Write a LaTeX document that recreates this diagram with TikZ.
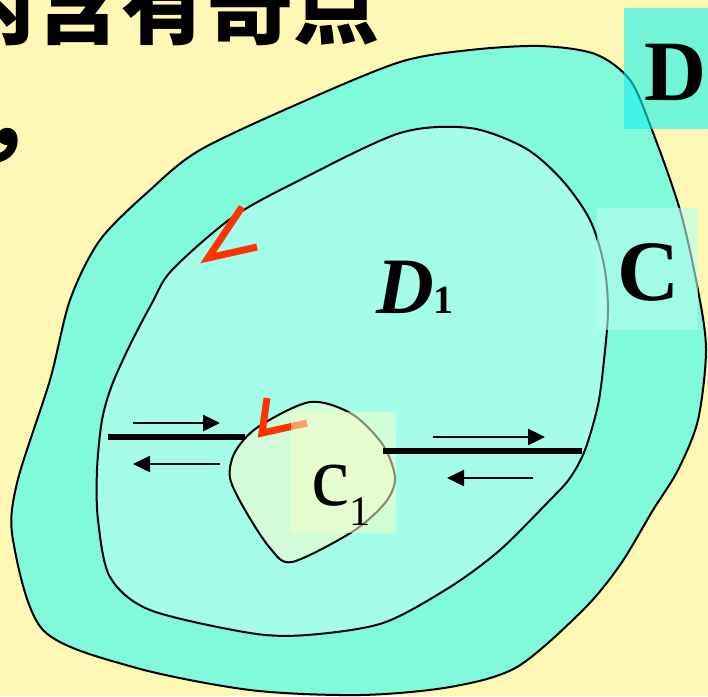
\documentclass[tikz,border=0pt]{standalone}
\usepackage{fontspec}
\setmainfont{Liberation Serif}
\newfontfamily\cjk{Noto Sans CJK SC}
\usetikzlibrary{arrows.meta,positioning}
\definecolor{paper}{RGB}{255,247,180}
\definecolor{ringD}{RGB}{128,250,218}
\definecolor{innerD}{RGB}{164,253,232}
\definecolor{holeC}{RGB}{210,252,216}
\definecolor{markred}{RGB}{255,51,0}
\definecolor{boxD}{RGB}{21,242,238}
\definecolor{boxC}{RGB}{186,253,241}
\definecolor{boxc}{RGB}{245,252,200}

\begin{document}
\begin{tikzpicture}[x=1pt,y=-1pt,
  flow/.style={line width=2.5pt,-{Triangle[length=17pt,width=16pt]}},
  cut/.style={line width=6pt},
  rim/.style={line width=2pt},
  redmark/.style={markred,line width=7pt},
  lab/.style={inner sep=0pt,anchor=base west}]
  \useasboundingbox (0,0) rectangle (708,696);
  \clip (0,0) rectangle (708,696);
  \fill[paper] (0,0) rectangle (708,696);

  \node[lab,font=\cjk\bfseries\fontsize{86}{86}\selectfont] (title) at (-51,37) {内含有奇点};
  \node[lab,font=\cjk\bfseries\fontsize{86}{86}\selectfont] (comma) at (-19,149) {，};

  % region D, ring between the two contours
  \filldraw[fill=ringD,rim] plot[smooth cycle] coordinates {
    (540,46) (595,54) (630,80) (652,130) (680,210) (698,290) (706,350)
    (698,420) (678,470) (653,510) (620,565) (583,610) (517,667) (450,687)
    (360,695) (250,690) (133,667) (43,630) (13,540) (17,483) (50,380)
    (70,300) (100,240) (150,190) (200,150) (300,103) (400,62) (470,50)};
  \filldraw[fill=innerD,rim] plot[smooth cycle] coordinates {
    (470,128) (525,148) (562,180) (590,220) (604,265) (608,310) (604,360)
    (598,405) (585,450) (570,478) (550,500) (500,550) (450,587) (383,623)
    (307,635) (250,633) (150,610) (110,577) (98,520) (97,470) (102,420)
    (112,385) (130,345) (152,303) (172,270) (233,217) (300,180) (400,133)};
  \filldraw[fill=holeC,rim] plot[smooth cycle] coordinates {
    (310,402) (352,414) (383,445) (395,478) (385,503) (352,532) (292,562)
    (270,548) (245,510) (230,478) (235,452) (258,427)};

  % cuts and the way round them
  \coordinate (cutL1) at (108,437);
  \coordinate (cutL2) at (245,437);
  \coordinate (cutR1) at (383,451);
  \coordinate (cutR2) at (582,451);
  \draw[cut] (cutL1) -- (cutL2);

  \coordinate (inL1) at (133,423);
  \coordinate (inL2) at (220,423);
  \coordinate (outL1) at (220,464);
  \coordinate (outL2) at (133,464);
  \coordinate (inR1) at (433,437);
  \coordinate (inR2) at (545,437);
  \coordinate (outR1) at (533,478);
  \coordinate (outR2) at (447,478);
  \draw[flow] (inL1) -- (inL2);
  \draw[flow] (outL1) -- (outL2);
  \draw[flow] (inR1) -- (inR2);
  \draw[flow] (outR1) -- (outR2);

  \draw[redmark] (242,207) -- (208,258) -- (257,247);
  \draw[redmark] (267,398) -- (262,433) -- (307,423);

  \fill[boxD,opacity=0.6] (624,8) rectangle (708,129);
  \fill[boxC,opacity=0.6] (597,208) rectangle (698,330);
  \fill[boxc,opacity=0.55] (291,412) rectangle (396,533);
  \draw[cut] (cutR1) -- (cutR2);

  \node[lab,font=\bfseries\fontsize{86}{86}\selectfont] (labD) at (644,100) {D};
  \node[lab,font=\bfseries\fontsize{86}{86}\selectfont] (labC) at (617,300) {C};
  \node[lab,font=\fontsize{80}{80}\selectfont] (labDone) at (376,313)
    {\textbf{\textit{D}}\fontsize{40}{40}\selectfont\bfseries 1};
  \node[lab,font=\fontsize{86}{86}\selectfont] (labc) at (311,505)
    {c\raisebox{-20pt}{\fontsize{42}{42}\selectfont 1}};
\end{tikzpicture}
\end{document}
